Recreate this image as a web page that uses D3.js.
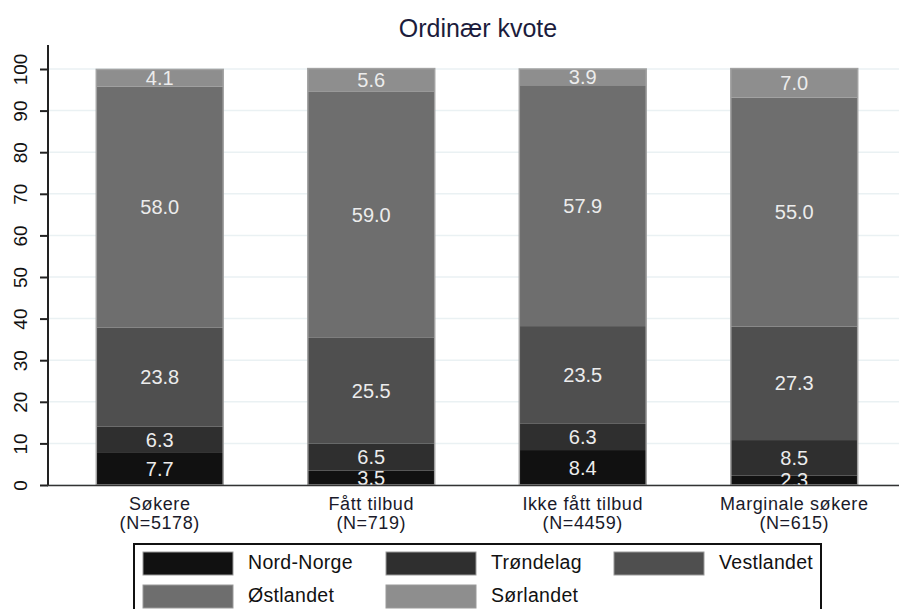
<!DOCTYPE html>
<html>
<head>
<meta charset="utf-8">
<script src="https://cdn.jsdelivr.net/npm/d3@7"></script>
<style>
  body { margin: 0; background: #fff; }
  text { font-family: "Liberation Sans", Arial, sans-serif; }
</style>
</head>
<body>
<div id="graph"></div>
<script>
// stacked shares per group, Stata-ish look

var groups = ["Søkere", "Fått tilbud", "Ikke fått tilbud", "Marginale søkere"];
var groupN = ["(N=5178)", "(N=719)", "(N=4459)", "(N=615)"];
var regions = ["Nord-Norge", "Trøndelag", "Vestlandet", "Østlandet", "Sørlandet"];

var nordNorge  = [7.7, 3.5, 8.4, 2.3];
var trondelag  = [6.3, 6.5, 6.3, 8.5];
var vestlandet = [23.8, 25.5, 23.5, 27.3];
var ostlandet  = [58.0, 59.0, 57.9, 55.0];
var sorlandet  = [4.1, 5.6, 3.9, 7.0];

var yTicks = [0, 10, 20, 30, 40, 50, 60, 70, 80, 90, 100];
var colors = ["#111111", "#2f2f2f", "#4f4f4f", "#6e6e6e", "#8e8e8e"];

var width = 899, height = 609;

var table = groups.map(function(g, i) {
  return {
    group: g,
    "Nord-Norge": nordNorge[i],
    "Trøndelag": trondelag[i],
    "Vestlandet": vestlandet[i],
    "Østlandet": ostlandet[i],
    "Sørlandet": sorlandet[i]
  };
});

var svg = d3.select("#graph").append("svg")
    .attr("width", width)
    .attr("height", height);

var x = d3.scaleBand()
    .domain(groups)
    .range([54, 900])
    .paddingInner(0.4)
    .paddingOuter(0.2);

var y = d3.scaleLinear()
    .domain([0, 100])
    .range([485, 69]);

var color = d3.scaleOrdinal().domain(regions).range(colors);

// gridlines
svg.append("g")
  .selectAll("line")
  .data(yTicks)
  .enter().append("line")
    .attr("x1", 49).attr("x2", width)
    .attr("y1", d => y(d)).attr("y2", d => y(d))
    .attr("stroke", "#eaf1f3")
    .attr("stroke-width", 1.5);

svg.append("defs").append("clipPath").attr("id", "plotclip")
  .append("rect").attr("x", 48).attr("y", 40).attr("width", width - 48).attr("height", 485 - 40);

var stack = d3.stack().keys(regions);
var series = stack(table);

var layers = svg.append("g").selectAll("g")
    .data(series)
  .enter().append("g")
    .attr("fill", d => color(d.key));

layers.selectAll("rect")
    .data(d => d)
  .enter().append("rect")
    .attr("x", d => x(d.data.group))
    .attr("width", x.bandwidth())
    .attr("y", d => y(d[1]))
    .attr("height", d => y(d[0]) - y(d[1]));

// bar outline
svg.append("g").selectAll("rect")
    .data(table)
  .enter().append("rect")
    .attr("x", d => x(d.group))
    .attr("width", x.bandwidth())
    .attr("y", d => y(d3.sum(regions, k => d[k])))
    .attr("height", d => y(0) - y(d3.sum(regions, k => d[k])))
    .attr("fill", "none")
    .attr("stroke", "#a2a2a2")
    .attr("stroke-width", 1.5);

// value labels
var labels = svg.append("g").attr("clip-path", "url(#plotclip)");
series.forEach(function(s) {
  labels.selectAll(null)
      .data(s)
    .enter().append("text")
      .attr("x", d => x(d.data.group) + x.bandwidth() / 2)
      .attr("y", d => y((d[0] + d[1]) / 2))
      .attr("dy", "0.36em")
      .attr("text-anchor", "middle")
      .attr("font-size", 20)
      .attr("fill", "#ececec")
      .text(d => (d[1] - d[0]).toFixed(1));
});

// y axis
var yAxis = svg.append("g")
    .attr("transform", "translate(48,0)")
    .call(d3.axisLeft(y).tickValues(yTicks).tickSize(8));
yAxis.select(".domain").attr("d", "M0,45V485").attr("stroke", "#222").attr("stroke-width", 2);
yAxis.selectAll(".tick line").attr("stroke", "#222").attr("stroke-width", 2);
yAxis.selectAll(".tick text")
    .attr("font-size", 19)
    .attr("fill", "#111")
    .attr("text-anchor", "middle")
    .attr("x", null)
    .attr("transform", "translate(-28,0) rotate(-90)")
    .attr("dy", "0.36em");

// x baseline
svg.append("line")
    .attr("x1", 47).attr("x2", width)
    .attr("y1", 485.5).attr("y2", 485.5)
    .attr("stroke", "#333")
    .attr("stroke-width", 1.5);

// x labels, two lines each
var xl = svg.append("g").selectAll("g")
    .data(groups)
  .enter().append("g")
    .attr("transform", d => "translate(" + (x(d) + x.bandwidth() / 2) + ",0)")
    .attr("font-size", 18)
    .attr("letter-spacing", 0.6)
    .attr("fill", "#1a1a2a")
    .attr("text-anchor", "middle");
xl.append("text").attr("y", 510).text(d => d);
xl.append("text").attr("y", 529).text((d, i) => groupN[i]);

// title
svg.append("text")
    .attr("x", 478)
    .attr("y", 37)
    .attr("text-anchor", "middle")
    .attr("font-size", 25)
    .attr("fill", "#1c1c3c")
    .text("Ordinær kvote");

// legend
var legend = svg.append("g");
legend.append("rect")
    .attr("x", 134).attr("y", 544)
    .attr("width", 687).attr("height", 80)
    .attr("fill", "#fff")
    .attr("stroke", "#111")
    .attr("stroke-width", 2);

var colX = [143, 386, 614];
var rowY = [552, 585];
var items = legend.selectAll("g.item")
    .data(regions)
  .enter().append("g")
    .attr("class", "item")
    .attr("transform", (d, i) => "translate(" + colX[i % 3] + "," + rowY[Math.floor(i / 3)] + ")");
items.append("rect")
    .attr("width", 90).attr("height", 23)
    .attr("fill", d => color(d))
    .attr("stroke", "#9a9a9a")
    .attr("stroke-width", 1);
items.append("text")
    .attr("x", 105)
    .attr("y", 17)
    .attr("font-size", 19.5)
    .attr("letter-spacing", 0.3)
    .attr("fill", "#111")
    .text(d => d);
</script>
</body>
</html>
